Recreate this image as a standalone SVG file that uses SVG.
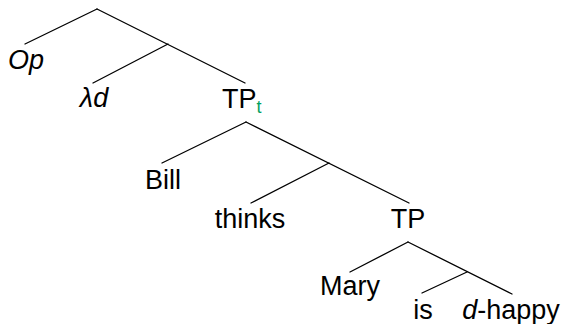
<svg xmlns="http://www.w3.org/2000/svg" width="564" height="324" viewBox="0 0 564 324">
<style>
text{font-family:"Liberation Sans",Arial,sans-serif;font-size:27px;fill:#000;text-anchor:middle}
.it{font-style:italic}
.sub{font-size:18px;fill:#00a060}
.e{stroke:#000;stroke-width:1.3;fill:none;stroke-linecap:round}
</style>
<rect width="564" height="324" fill="#fff"/>
<g id="connectors">
<line class="e" x1="97" y1="9" x2="25" y2="44"/>
<line class="e" x1="97" y1="9" x2="245" y2="83"/>
<line class="e" x1="168" y1="44" x2="93" y2="83"/>
<line class="e" x1="246" y1="122" x2="162" y2="163"/>
<line class="e" x1="246" y1="122" x2="409" y2="203"/>
<line class="e" x1="329" y1="163" x2="251" y2="203"/>
<line class="e" x1="408" y1="242" x2="350" y2="272"/>
<line class="e" x1="408" y1="242" x2="512" y2="294"/>
<line class="e" x1="467" y1="272" x2="422" y2="293"/>
</g>
<g id="node-op"><text class="it" x="26" y="69">Op</text></g>
<g id="node-lambda"><text class="it" x="94" y="107">λd</text></g>
<g id="node-tpt"><text x="222" y="108" style="text-anchor:start">TP<tspan class="sub" dy="5">t</tspan></text></g>
<g id="node-bill"><text x="163" y="189">Bill</text></g>
<g id="node-thinks"><text x="250" y="228">thinks</text></g>
<g id="node-tp"><text x="408" y="228">TP</text></g>
<g id="node-mary"><text x="350" y="295">Mary</text></g>
<g id="node-is"><text x="423" y="319">is</text></g>
<g id="node-dhappy"><text x="511" y="319"><tspan class="it">d</tspan>-happy</text></g>
</svg>
